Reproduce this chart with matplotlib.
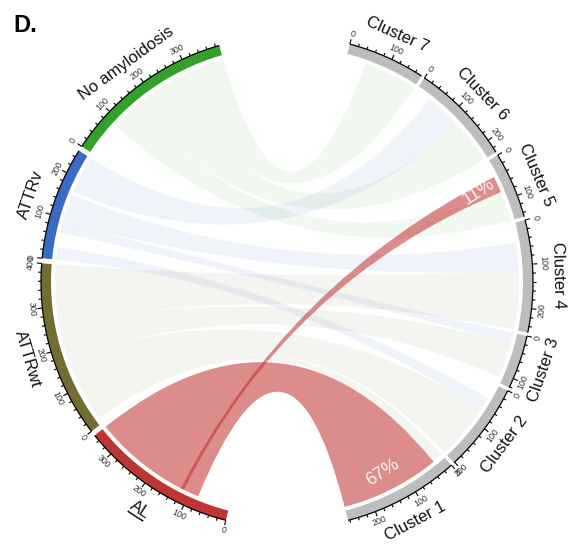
import numpy as np
import matplotlib
matplotlib.use("Agg")
import matplotlib.pyplot as plt
from matplotlib.path import Path
from matplotlib.patches import PathPatch, Wedge

plt.rcParams["font.family"] = ["Liberation Sans", "DejaVu Sans"]

# ---- data -------------------------------------------------------------
diagnoses = ["AL", "ATTRwt", "ATTRv", "No amyloidosis"]
clusters = ["Cluster 7", "Cluster 6", "Cluster 5", "Cluster 4",
            "Cluster 3", "Cluster 2", "Cluster 1"]

# patients per diagnosis, split over clusters 7 .. 1
al_counts = [40, 29, 39, 0, 9, 0, 238]
attrwt_counts = [0, 9, 5, 140, 85, 135, 26]
attrv_counts = [8, 90, 35, 68, 25, 30, 0]
noamy_counts = [128, 104, 71, 46, 3, 37, 0]

# which links are drawn (1) or left blank (0)
al_shown = [0, 0, 1, 0, 0, 0, 1]
attrwt_shown = [0, 0, 0, 1, 1, 1, 1]
attrv_shown = [0, 1, 0, 1, 1, 1, 0]
noamy_shown = [1, 1, 1, 0, 0, 0, 0]

# links labelled with their share of the diagnosis total
labelled_links = [("AL", "Cluster 1"), ("AL", "Cluster 5")]

# placement of the link ends inside each sector (clockwise)
row_order = {
    "AL": ["Cluster 7", "Cluster 6", "Cluster 3", "Cluster 5", "Cluster 1"],
    "ATTRwt": ["Cluster 6", "Cluster 5", "Cluster 1", "Cluster 2", "Cluster 3", "Cluster 4"],
    "ATTRv": ["Cluster 2", "Cluster 5", "Cluster 3", "Cluster 4", "Cluster 7", "Cluster 6"],
    "No amyloidosis": ["Cluster 4", "Cluster 3", "Cluster 2", "Cluster 5", "Cluster 6", "Cluster 7"],
}
col_order = {
    "Cluster 7": ["AL", "ATTRv", "No amyloidosis"],
    "Cluster 6": ["AL", "ATTRwt", "ATTRv", "No amyloidosis"],
    "Cluster 5": ["ATTRv", "ATTRwt", "AL", "No amyloidosis"],
    "Cluster 4": ["No amyloidosis", "ATTRv", "ATTRwt"],
    "Cluster 3": ["ATTRv", "ATTRwt", "AL", "No amyloidosis"],
    "Cluster 2": ["No amyloidosis", "ATTRv", "ATTRwt"],
    "Cluster 1": ["ATTRwt", "AL"],
}
# the AL ends of the two highlighted links share one span of the AL axis:
# the cluster 1 link fans over it, the cluster 5 link leaves from a sliver
diag_end_span = {("AL", "Cluster 1"): (78, 355),
                 ("AL", "Cluster 5"): (115, 123)}

# ---- styling ----------------------------------------------------------
ring_colors = {"AL": "#bf3434", "ATTRwt": "#736d31", "ATTRv": "#3a6bc4",
               "No amyloidosis": "#33a02c"}
cluster_color = "#bdbdbd"
link_colors = {"AL": (0.76, 0.18, 0.18, 0.55),
               "ATTRwt": (0.47, 0.45, 0.24, 0.075),
               "ATTRv": (0.23, 0.43, 0.78, 0.08),
               "No amyloidosis": (0.17, 0.63, 0.17, 0.07)}

counts = dict(zip(diagnoses, [al_counts, attrwt_counts, attrv_counts, noamy_counts]))
shown = dict(zip(diagnoses, [al_shown, attrwt_shown, attrv_shown, noamy_shown]))

value = {}
for d in diagnoses:
    for j, c in enumerate(clusters):
        if counts[d][j] > 0:
            value[(d, c)] = counts[d][j]

size = {d: sum(counts[d]) for d in diagnoses}
for j, c in enumerate(clusters):
    size[c] = sum(counts[d][j] for d in diagnoses)

# ---- layout (degrees, clockwise = decreasing angle) -------------------
DEG = 0.1043
LEFT_START, LEFT_GAP = 255.6, 1.2
RIGHT_START, RIGHT_GAP = 75.2, 0.8
R_OUT, R_IN, R_LINK = 246.0, 236.0, 232.0

start = {}
a = LEFT_START
for d in diagnoses:
    start[d] = a
    a -= size[d] * DEG + LEFT_GAP
a = RIGHT_START
for c in clusters:
    start[c] = a
    a -= size[c] * DEG + RIGHT_GAP


def ang(sector, pos):
    return start[sector] - pos * DEG


# link end intervals
row_end, col_end = {}, {}
for d in diagnoses:
    pos = 0.0
    for c in row_order[d]:
        v = value.get((d, c), 0)
        if v:
            row_end[(d, c)] = (ang(d, pos), ang(d, pos + v))
            pos += v
for (d, c), (p0, p1) in diag_end_span.items():
    row_end[(d, c)] = (ang(d, p0), ang(d, p1))
for c in clusters:
    pos = 0.0
    for d in col_order[c]:
        v = value.get((d, c), 0)
        if v:
            col_end[(d, c)] = (ang(c, pos), ang(c, pos + v))
            pos += v

# ---- figure ----------------------------------------------------------
W, H = 575, 546
CX, CY = 287, 282
fig = plt.figure(figsize=(W / 100, H / 100), dpi=100)
ax = fig.add_axes([0, 0, 1, 1])
ax.set_xlim(-CX, W - CX)
ax.set_ylim(CY - H, CY)
ax.axis("off")


def pt(theta, r):
    t = np.radians(theta)
    return np.array([r * np.cos(t), r * np.sin(t)])


def arc(t0, t1, r, n=40):
    ts = np.linspace(t0, t1, n)
    return [pt(t, r) for t in ts]


def link_patch(ra, ca, color, zorder=2):
    r0, r1 = ra
    c0, c1 = ca
    verts, codes = [], []
    pts = arc(r0, r1, R_LINK)
    verts += pts
    codes += [Path.MOVETO] + [Path.LINETO] * (len(pts) - 1)
    verts += [(0, 0), pt(c0, R_LINK)]
    codes += [Path.CURVE3, Path.CURVE3]
    pts = arc(c0, c1, R_LINK)[1:]
    verts += pts
    codes += [Path.LINETO] * len(pts)
    verts += [(0, 0), pt(r0, R_LINK)]
    codes += [Path.CURVE3, Path.CURVE3]
    verts.append(pt(r0, R_LINK))
    codes.append(Path.CLOSEPOLY)
    ax.add_patch(PathPatch(Path(verts, codes), facecolor=color,
                           edgecolor="none", zorder=zorder))


for d in diagnoses:
    for j, c in enumerate(clusters):
        if counts[d][j] > 0 and shown[d][j]:
            link_patch(row_end[(d, c)], col_end[(d, c)], link_colors[d],
                       zorder=3 if d == "AL" else 2)


def nice_rot(theta):
    theta = theta % 360
    rot = theta - 90
    if np.sin(np.radians(theta)) < 0:
        rot += 180
    return rot


# ring, axis, ticks, labels
for s in diagnoses + clusters:
    a0 = start[s]
    a1 = ang(s, size[s])
    col = ring_colors.get(s, cluster_color)
    ax.add_patch(Wedge((0, 0), R_OUT, a1, a0, width=R_OUT - R_IN,
                       facecolor=col, edgecolor="none", zorder=4))
    xy = np.array(arc(a0, a1, R_OUT, 80))
    ax.plot(xy[:, 0], xy[:, 1], color="black", lw=0.9, zorder=5,
            solid_capstyle="butt")
    for v in range(0, size[s] + 1, 20):
        t = ang(s, v)
        major = v % 100 == 0
        p0, p1 = pt(t, R_OUT), pt(t, R_OUT + (5.0 if major else 3.0))
        ax.plot([p0[0], p1[0]], [p0[1], p1[1]], color="black", lw=0.8,
                zorder=5, solid_capstyle="butt")
        if major:
            q = pt(t, 256.5)
            ax.text(q[0], q[1], str(v), fontsize=6.3, color="#333333",
                    rotation=nice_rot(t), ha="center", va="center",
                    rotation_mode="anchor", zorder=6)
    tm = (a0 + a1) / 2
    q = pt(tm, 271)
    ax.text(q[0], q[1], s, fontsize=12, color="#111111",
            rotation=nice_rot(tm), ha="center", va="center",
            rotation_mode="anchor", zorder=6)
    if s == "AL":
        half = np.degrees(8.5 / 279)
        u = np.array(arc(tm - half, tm + half, 279, 10))
        ax.plot(u[:, 0], u[:, 1], color="#111111", lw=1.1, zorder=6)

# percentage labels on highlighted links
label_pos = {("AL", "Cluster 1"): (96, -190), ("AL", "Cluster 5"): (192, 90)}
for d, c in labelled_links:
    share = value[(d, c)] / size[d] * 100
    x, y = label_pos[(d, c)]
    ax.text(x, y, f"{share:.0f}%", fontsize=13, color="white", alpha=0.9,
            rotation=33, ha="center", va="center", rotation_mode="anchor",
            zorder=7)

fig.text(13 / W, 1 - 32 / H, "D.", fontsize=17, fontweight="bold",
         ha="left", va="baseline")

fig.savefig("out.png", dpi=100)
